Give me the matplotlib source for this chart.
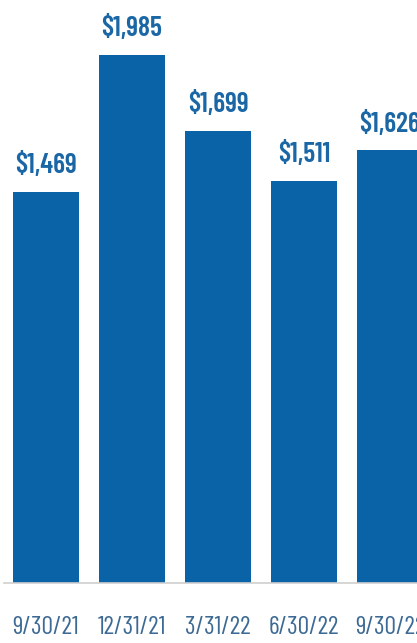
import matplotlib.pyplot as plt

dates = ["9/30/21", "12/31/21", "3/31/22", "6/30/22", "9/30/22"]
values = [1469, 1985, 1699, 1511, 1626]

BAR_COLOR = "#0963a6"
LABEL_COLOR = "#1b67a6"
TICK_COLOR = "#3d6a94"
FONT = ["Barlow Condensed", "DejaVu Sans"]

fig = plt.figure(figsize=(4.17, 6.43), dpi=100)
ax = fig.add_axes([4 / 417, 60 / 643, 413 / 417, 583 / 643])

x = list(range(len(values)))
ax.bar(x, values, width=66 / 86, color=BAR_COLOR)

for xi, v in zip(x, values):
    ax.annotate(f"${v:,}", (xi, v), xytext=(0, 10), textcoords="offset points",
                ha="center", va="bottom", fontsize=20, fontweight="semibold",
                fontstretch="condensed", color=LABEL_COLOR, family=FONT)

ax.set_xlim(-42 / 86, 371 / 86)
ax.set_ylim(0, 583 / 0.266)

ax.set_xticks(x)
ax.set_xticklabels(dates, fontsize=18.5, color=TICK_COLOR, family=FONT,
                   fontstretch="condensed")
ax.tick_params(axis="x", length=0, pad=24)
ax.set_yticks([])

for side in ["top", "right", "left"]:
    ax.spines[side].set_visible(False)
ax.spines["bottom"].set_color("#cfcfcf")
ax.spines["bottom"].set_linewidth(1.2)

fig.savefig("out.png", dpi=100)
